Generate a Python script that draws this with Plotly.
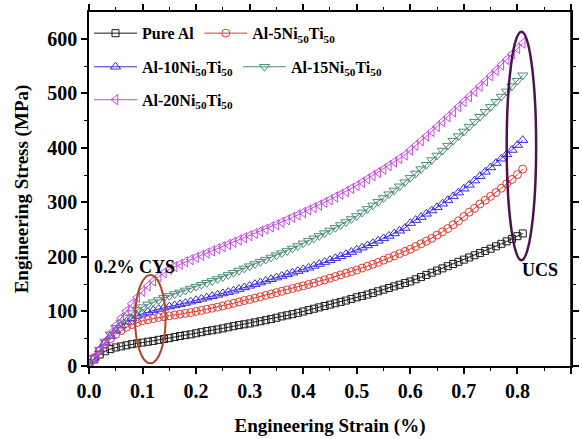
import plotly.graph_objects as go

strain = [0.00, 0.01, 0.02, 0.03, 0.04, 0.05, 0.06, 0.07, 0.08, 0.09,
          0.10, 0.11, 0.12, 0.13, 0.14, 0.15, 0.16, 0.17, 0.18, 0.19,
          0.20, 0.21, 0.22, 0.23, 0.24, 0.25, 0.26, 0.27, 0.28, 0.29,
          0.30, 0.31, 0.32, 0.33, 0.34, 0.35, 0.36, 0.37, 0.38, 0.39,
          0.40, 0.41, 0.42, 0.43, 0.44, 0.45, 0.46, 0.47, 0.48, 0.49,
          0.50, 0.51, 0.52, 0.53, 0.54, 0.55, 0.56, 0.57, 0.58, 0.59,
          0.60, 0.61, 0.62, 0.63, 0.64, 0.65, 0.66, 0.67, 0.68, 0.69,
          0.70, 0.71, 0.72, 0.73, 0.74, 0.75, 0.76, 0.77, 0.78, 0.79,
          0.80, 0.81]

pure_al = [0, 12, 21, 27, 31, 34, 36, 38, 40, 41.5,
           43, 44.5, 46, 48, 49.5, 51, 53, 55, 56.5, 58,
           60, 62, 64, 65.5, 67, 69, 71, 73, 75, 76.5,
           78, 80, 82, 84, 86, 88.5, 91, 93, 95, 97.5,
           100, 102.5, 105, 107.5, 110, 112.5, 115, 117.5, 120, 123,
           126, 128.5, 131, 134, 137, 140, 143, 146, 149, 152,
           155, 159, 163, 167, 171, 175, 179, 183, 187, 191,
           195, 199, 203, 207, 211, 215, 219.5, 224, 228.5, 233,
           238, 243]

al_5 = [0, 15, 28, 40, 50, 58, 65, 71, 76, 80,
        83, 85, 87, 89, 90.5, 92, 93.5, 95, 96.5, 98,
        100, 102, 104, 106, 108, 110, 112.5, 115, 117.5, 120,
        122, 124.5, 127, 129.5, 132, 134.5, 137, 139.5, 142, 144.5,
        147, 149.5, 152, 155, 158, 161, 164, 167, 170, 173,
        176, 179.5, 183, 186.5, 190, 194, 198, 202, 206, 210,
        214, 219, 224, 229, 234, 240, 246, 252, 259, 266,
        274, 282, 289, 297, 304, 311, 318, 326, 334, 342,
        351, 361]

al_10 = [0, 15, 30, 43, 55, 65, 74, 81, 87, 92,
         96, 99, 102, 104.5, 107, 109, 111, 113, 115.5, 118,
         120.5, 123, 125.5, 128, 130.5, 133, 135.5, 138, 141, 144,
         147, 150, 153, 156, 159, 162, 165, 168, 171, 174,
         177, 180, 183.5, 187, 190.5, 194, 197.5, 201, 205, 209,
         213, 217, 221, 225, 229.5, 234, 238.5, 243, 248, 253,
         262, 267.5, 273, 279, 285, 291, 297.5, 304, 311, 318,
         325, 332, 340, 348, 356, 364, 372, 380, 388, 396,
         405, 414]

al_15 = [0, 15, 30, 45, 58, 70, 80, 89, 97, 103,
         108, 113, 117, 121, 125, 128.5, 132, 135, 138.5, 142,
         145.5, 149, 152.5, 156, 159.5, 163, 167, 171, 175, 179,
         183, 187, 191, 195, 199, 203, 207, 211, 215.5, 220,
         225, 229.5, 234, 238.5, 243.5, 248.5, 253.5, 258.5, 264, 269.5,
         275, 281.5, 288, 294.5, 301, 308, 315, 322, 329.5, 337,
         345, 353, 361, 369, 377.5, 386, 395, 404, 413, 421.5,
         430, 439, 448, 457, 466, 475, 484.5, 494, 503.5, 513,
         523, 533]

al_20 = [0, 15, 30, 45, 60, 74, 88, 101, 114, 126,
         137, 147, 156, 164, 171, 177, 182, 186.5, 191, 195,
         199, 203, 207, 211, 215, 219, 223, 227, 231, 235,
         239, 243, 247, 251, 255, 259, 263.5, 268, 272.5, 277,
         281.5, 286, 290.5, 295, 300, 305, 310, 315, 320, 325.5,
         331, 337, 343, 349, 355, 361, 367.5, 374, 380.5, 387,
         396, 404.5, 413, 421.5, 430, 439, 448, 457, 466, 475.5,
         485, 494, 503.5, 513, 522.5, 532, 542, 552, 562, 572,
         582, 592]

names = ["Pure Al", "Al-5Ni<sub>50</sub>Ti<sub>50</sub>", "Al-10Ni<sub>50</sub>Ti<sub>50</sub>",
         "Al-15Ni<sub>50</sub>Ti<sub>50</sub>", "Al-20Ni<sub>50</sub>Ti<sub>50</sub>"]
series = [pure_al, al_5, al_10, al_15, al_20]
colors = ["#1a1a1a", "#e0392e", "#3a2be0", "#4f8c7d", "#c44ae0"]
symbols = ["square-open", "circle-open", "triangle-up-open", "triangle-down-open", "triangle-left-open"]
sizes = [7, 8, 9, 9, 9]
legends = ["legend", "legend", "legend2", "legend2", "legend3"]

x_ticks = [0.0, 0.1, 0.2, 0.3, 0.4, 0.5, 0.6, 0.7, 0.8, 0.9]
y_ticks = [0, 100, 200, 300, 400, 500, 600]

FONT = "Liberation Serif"

fig = go.Figure()
for name, vals, col, sym, sz, lg in zip(names, series, colors, symbols, sizes, legends):
    fig.add_trace(go.Scatter(
        x=strain, y=vals, name=name, mode="lines+markers", legend=lg,
        line=dict(color=col, width=1),
        marker=dict(symbol=sym, size=sz, color=col, line=dict(width=1, color=col)),
    ))

x_step = x_ticks[1] - x_ticks[0]
y_step = y_ticks[1] - y_ticks[0]
XR = [x_ticks[0], x_ticks[-1] + 0.0001]
YR = [0, 649]

common = dict(showgrid=False, zeroline=False, showline=True, linecolor="black", linewidth=1.5,
              tickwidth=1.5, tickcolor="black", automargin=False, mirror="allticks",
              ticks="outside", ticklen=6)

legend_font = dict(family=FONT, size=16, color="black", weight="bold")

fig.update_layout(
    width=582, height=439,
    margin=dict(l=89, r=11, t=12, b=73, autoexpand=False),
    paper_bgcolor="white", plot_bgcolor="white",
    font=dict(family=FONT, color="black"),
    xaxis=dict(range=XR, tickmode="linear", tick0=x_ticks[0], dtick=x_step, tickformat=".1f",
               minor=dict(dtick=x_step / 2, ticks="outside", ticklen=3, tickwidth=1.2, tickcolor="black"),
               tickfont=dict(family=FONT, size=20, color="black", weight="bold"),
               title=dict(text="<b>Engineering Strain (%)</b>", font=dict(family=FONT, size=19), standoff=18),
               **common),
    yaxis=dict(range=YR, tickmode="linear", tick0=y_ticks[0], dtick=y_step,
               minor=dict(dtick=y_step / 2, ticks="outside", ticklen=3, tickwidth=1.2, tickcolor="black"),
               tickfont=dict(family=FONT, size=20, color="black", weight="bold"),
               title=dict(text="<b>Engineering Stress (MPa)</b>", font=dict(family=FONT, size=19), standoff=14),
               **common),
    legend=dict(x=0.0, y=0.988, xanchor="left", yanchor="top", orientation="h",
                bgcolor="rgba(0,0,0,0)", itemwidth=43, font=legend_font),
    legend2=dict(x=0.0, y=0.893, xanchor="left", yanchor="top", orientation="h",
                 bgcolor="rgba(0,0,0,0)", itemwidth=43, font=legend_font),
    legend3=dict(x=0.0, y=0.8, xanchor="left", yanchor="top", orientation="h",
                 bgcolor="rgba(0,0,0,0)", itemwidth=43, font=legend_font),
    showlegend=True,
)

# frame edge on the right (styling) and annotation ellipses / labels
fig.add_shape(type="line", xref="paper", yref="paper", x0=1, x1=1, y0=0, y1=1,
              line=dict(color="black", width=1.5))
fig.add_shape(type="circle", xref="x", yref="y", x0=0.086, x1=0.143, y0=5, y1=167,
              line=dict(color="#b0442e", width=2))
fig.add_shape(type="circle", xref="x", yref="y", x0=0.780, x1=0.835, y0=194, y1=613,
              line=dict(color="#4a1450", width=2.5))
fig.add_annotation(x=0.085, y=182, xref="x", yref="y", text="<b>0.2% CYS</b>", showarrow=False,
                   font=dict(family=FONT, size=18, color="black"))
fig.add_annotation(x=0.842, y=176, xref="x", yref="y", text="<b>UCS</b>", showarrow=False,
                   font=dict(family=FONT, size=18, color="black"))

fig.write_html("out.html", config={"displayModeBar": False},
               post_script=("document.documentElement.style.overflow='hidden';"
                            "document.body.style.overflow='hidden';"
                            "document.body.style.margin='0';document.body.style.padding='0';"))
